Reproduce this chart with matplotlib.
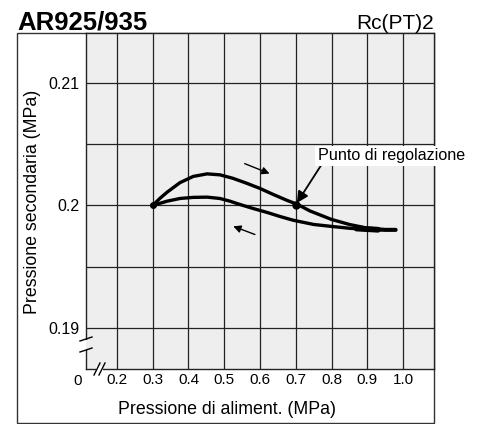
import matplotlib
matplotlib.use("Agg")
import matplotlib.pyplot as plt
from matplotlib.patches import Rectangle
from matplotlib.lines import Line2D

plt.rcParams['font.family'] = ['Liberation Sans', 'DejaVu Sans']

# Data
up_x = [0.300, 0.320, 0.340, 0.376, 0.413, 0.452, 0.488, 0.524, 0.564, 0.600, 0.637, 0.676,
        0.704, 0.740, 0.800, 0.850, 0.900, 0.950, 0.980]
up_y = [0.20000, 0.20058, 0.20108, 0.20186, 0.20237, 0.20258, 0.20250, 0.20222, 0.20180,
        0.20139, 0.20090, 0.20041, 0.20010, 0.19955, 0.19886, 0.19845, 0.19815, 0.19804, 0.19804]
dn_x = [0.300, 0.340, 0.376, 0.413, 0.452, 0.488, 0.516, 0.544, 0.580, 0.620, 0.656, 0.692,
        0.750, 0.800, 0.850, 0.900, 0.950, 0.980]
dn_y = [0.20000, 0.20035, 0.20057, 0.20066, 0.20068, 0.20057, 0.20035, 0.20008, 0.19976,
        0.19943, 0.19910, 0.19880, 0.19845, 0.19829, 0.19814, 0.19804, 0.19798, 0.19798]

x_ticks = [0.2, 0.3, 0.4, 0.5, 0.6, 0.7, 0.8, 0.9, 1.0]
x_labels = ['0.2', '0.3', '0.4', '0.5', '0.6', '0.7', '0.8', '0.9', '1.0']
y_grid = [0.19, 0.195, 0.2, 0.205, 0.21]
y_ticks = [0.19, 0.2, 0.21]
y_labels = ['0.19', '0.2', '0.21']

title = 'AR925/935'
subtitle = 'Rc(PT)2'
xlabel = 'Pressione di aliment. (MPa)'
ylabel = 'Pressione secondaria (MPa)'
set_point = (0.7, 0.2)
set_label = 'Punto di regolazione'

W, H = 488, 424
fig = plt.figure(figsize=(W / 100, H / 100), dpi=100)
fig.patch.set_facecolor('white')

# outer frame (drawn beneath the axes so the label box can cover it)
fig.add_artist(Rectangle((17 / W, 1 - 423 / H), (434 - 17) / W, (423 - 33) / H,
                         fill=False, ec='#333333', lw=1.0, zorder=-1))

ax = fig.add_axes([86 / W, (H - 369) / H, (434 - 86) / W, (369 - 33) / H])
ax.set_facecolor('#eeeeee')
ax.set_xlim(0.1133, 1.0867)
ax.set_ylim(0.18665, 0.21408)

for xv in x_ticks:
    ax.axvline(xv, color='#222222', lw=0.9, zorder=1)
for yv in y_grid:
    ax.axhline(yv, color='#222222', lw=0.9, zorder=1)

ax.set_xticks(x_ticks)
ax.set_xticklabels(x_labels, fontsize=11)
ax.set_yticks(y_ticks)
ax.set_yticklabels(y_labels, fontsize=11.5)
ax.tick_params(axis='x', length=0, pad=3)
ax.tick_params(axis='y', length=0, pad=5)
for s in ax.spines.values():
    s.set_color('#222222')
    s.set_linewidth(1.0)

ax.text(0.1133 - 0.012, 0.18665 - 0.0004, '0', ha='right', va='top', fontsize=11)

ax.plot(up_x, up_y, color='black', lw=2.4, solid_capstyle='round', solid_joinstyle='round', zorder=3)
ax.plot(dn_x, dn_y, color='black', lw=2.4, solid_capstyle='round', solid_joinstyle='round', zorder=3)
ax.plot([0.87, 0.93], [0.19812, 0.19802], color='black', lw=4.2, solid_capstyle='round', zorder=3)
ax.plot([0.3], [0.2], 'o', color='black', ms=4, zorder=4)
ax.plot([set_point[0]], [set_point[1]], 'o', color='black', ms=5, zorder=4)

# direction arrows
ax.annotate('', xy=(0.634, 0.20252), xytext=(0.550, 0.20350),
            arrowprops=dict(arrowstyle='-|>', color='black', lw=1.0, mutation_scale=11))
ax.annotate('', xy=(0.518, 0.19838), xytext=(0.593, 0.19755),
            arrowprops=dict(arrowstyle='-|>', color='black', lw=1.0, mutation_scale=11))

# set point annotation
ax.annotate(set_label, xy=(0.703, 0.2002), xytext=(0.762, 0.20405),
            textcoords='data', fontsize=11.6, ha='left', va='center',
            bbox=dict(boxstyle='square,pad=0.15', fc='white', ec='none'),
            annotation_clip=False, zorder=5,
            arrowprops=dict(arrowstyle='-|>', color='black', lw=1.3, mutation_scale=17,
                            shrinkA=0, shrinkB=0, relpos=(0.03, 0.0)))

# axis breaks
fig.add_artist(Rectangle((82 / W, 1 - 350 / H), 9 / W, 10 / H, color='#eeeeee', lw=0, zorder=10))
fig.add_artist(Rectangle((80 / W, 1 - 350 / H), 6 / W, 10 / H, color='white', lw=0, zorder=10))
fig.add_artist(Line2D([(86 - 6) / W, (86 + 6) / W], [1 - 341 / H, 1 - 337 / H], color='black', lw=1.0, zorder=11))
fig.add_artist(Line2D([(86 - 6) / W, (86 + 6) / W], [1 - 352 / H, 1 - 348 / H], color='black', lw=1.0, zorder=11))
fig.add_artist(Rectangle((96 / W, 1 - 372 / H), 7 / W, 6 / H, color='white', lw=0, zorder=10))
fig.add_artist(Line2D([94 / W, 100 / W], [1 - 375 / H, 1 - 363 / H], color='black', lw=1.0, zorder=11))
fig.add_artist(Line2D([99 / W, 105 / W], [1 - 375 / H, 1 - 363 / H], color='black', lw=1.0, zorder=11))

# labels
fig.text(227 / W, 1 - 410 / H, xlabel, ha='center', va='center', fontsize=12.8)
fig.text(33 / W, 1 - 202 / H, ylabel, ha='center', va='center', rotation=90, fontsize=12.8)

fig.text(17 / W, 1 - 30 / H, title, ha='left', va='baseline', fontsize=18.5, fontweight='bold')
fig.text(434 / W, 1 - 29 / H, subtitle, ha='right', va='baseline', fontsize=15)

fig.savefig('out.png', dpi=100, facecolor='white')
